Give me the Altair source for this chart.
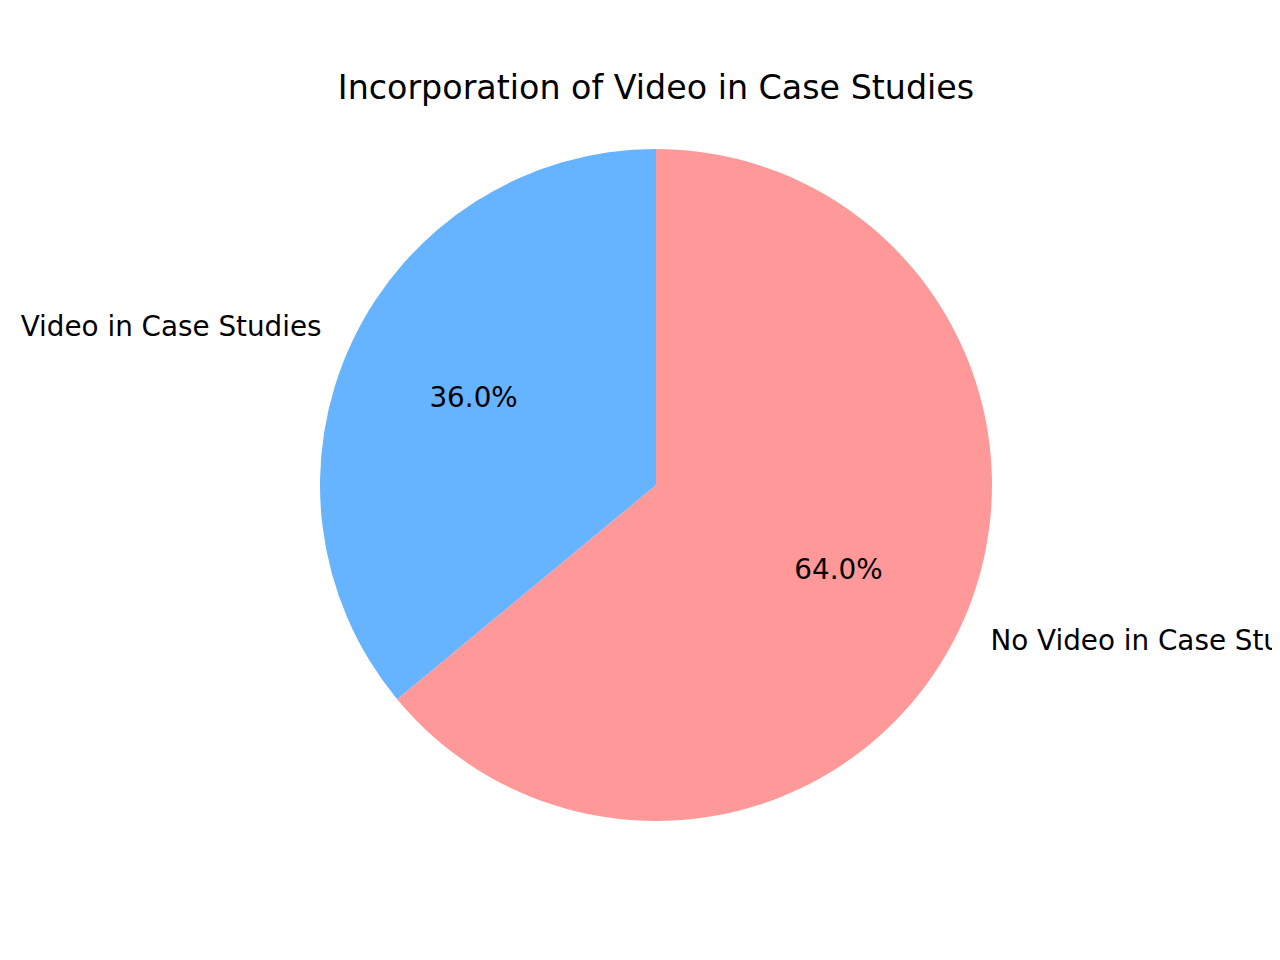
import altair as alt
import pandas as pd

categories = ["No Video in Case Studies", "Video in Case Studies"]
shares = [64.0, 36.0]
colors = ["#ff9999", "#66b3ff"]
title_text = "Incorporation of Video in Case Studies"

data = pd.DataFrame({
    "category": categories,
    "share": shares,
    "idx": list(range(len(categories))),
})
data["pct"] = [f"{v:.1f}%" for v in shares]

cx, cy, r = 648, 477, 336
font = "DejaVu Sans"

base = alt.Chart(data).encode(
    theta=alt.Theta("share:Q", stack=True),
    order=alt.Order("idx:Q"),
    x=alt.value(cx),
    y=alt.value(cy),
)

pie = base.mark_arc(outerRadius=r, strokeWidth=0).encode(
    color=alt.Color("category:N",
                    scale=alt.Scale(domain=categories, range=colors),
                    legend=None)
)

pct = base.mark_text(radius=r * 0.6, font=font, fontSize=27.8,
                     color="black", baseline="middle").encode(text="pct:N")

# outer labels: left-aligned on the right side, right-aligned on the left
lab_right = base.mark_text(radius=r * 1.1, font=font, fontSize=27.8, align="left",
                           baseline="middle", color="black").encode(
    text=alt.Text("category:N"),
    opacity=alt.condition(alt.datum.idx == 0, alt.value(1), alt.value(0)),
)
lab_left = base.mark_text(radius=r * 1.1, font=font, fontSize=27.8, align="right",
                          baseline="middle", color="black").encode(
    text=alt.Text("category:N"),
    opacity=alt.condition(alt.datum.idx == 1, alt.value(1), alt.value(0)),
)

title = alt.Chart(pd.DataFrame({"t": [title_text]})).mark_text(
    font=font, fontSize=33.3, color="black", baseline="alphabetic", align="center"
).encode(text="t:N", x=alt.value(cx), y=alt.value(91))

chart = alt.layer(pie, pct, lab_right, lab_left, title).properties(
    width=1264, height=944,
    autosize=alt.AutoSizeParams(type="none"),
    padding=0,
).configure_view(stroke=None)

chart.save("out.html", embed_options={"renderer": "svg", "actions": False})
